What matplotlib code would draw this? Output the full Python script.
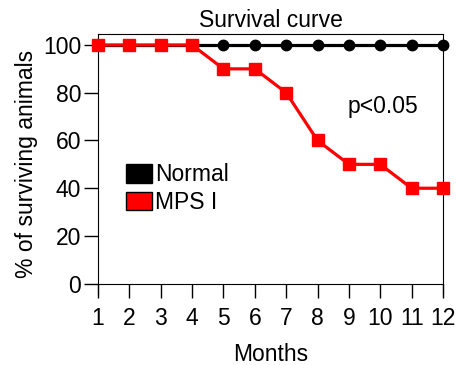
import matplotlib.pyplot as plt
from matplotlib.patches import Patch

months = [1, 2, 3, 4, 5, 6, 7, 8, 9, 10, 11, 12]
normal = [100, 100, 100, 100, 100, 100, 100, 100, 100, 100, 100, 100]
mps = [100, 100, 100, 100, 90, 90, 80, 60, 50, 50, 40, 40]
yticks = [0, 20, 40, 60, 80, 100]

plt.rcParams['font.family'] = ['Liberation Sans', 'DejaVu Sans']

fig = plt.figure(figsize=(4.57, 3.65), dpi=100)
ax = fig.add_axes([98 / 457, 1 - 294 / 365, 345 / 457, 260 / 365])

ax.plot(months, normal, color='black', lw=2.3, marker='o', ms=7.5, clip_on=False, zorder=3)
ax.plot(months, mps, color='red', lw=2.3, marker='s', ms=8.5, clip_on=False, zorder=4)

ax.set_xlim(1, 12)
ax.set_ylim(-4.3, 104.6)
ax.spines['bottom'].set_position(('data', 0))
ax.set_xticks(months)
ax.set_yticks(yticks)
ax.tick_params(direction='out', length=10, width=1, labelsize=16.5, pad=7)
ax.tick_params(axis='y', pad=2)

ax.set_title('Survival curve', fontsize=16.5, pad=5)
ax.set_xlabel('Months', fontsize=16.5, labelpad=9)
ax.set_ylabel('% of surviving animals', fontsize=16.5, labelpad=4)

ax.text(0.825, 0.72, 'p<0.05', transform=ax.transAxes, fontsize=16.5, ha='center', va='center')

handles = [Patch(facecolor='black', edgecolor='black', label='Normal'),
           Patch(facecolor='red', edgecolor='black', label='MPS I')]
ax.legend(handles=handles, loc='center left', bbox_to_anchor=(0.08, 0.405), frameon=False,
          fontsize=16.5, handlelength=1.15, handleheight=0.85, handletextpad=0.15,
          labelspacing=0.2, borderpad=0, borderaxespad=0)

fig.savefig('out.png', dpi=100)
